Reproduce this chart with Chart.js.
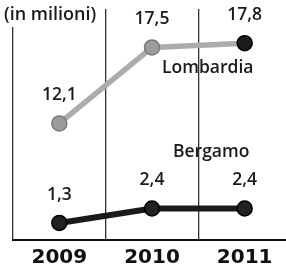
<!DOCTYPE html>
<html>
<head>
<meta charset="utf-8">
<script src="https://cdn.jsdelivr.net/npm/chart.js@4/dist/chart.umd.min.js"></script>
<style>
  html, body { margin: 0; padding: 0; background: #fff; }
  #wrap { width: 286px; height: 273px; overflow: hidden; position: relative; }
  #inner { width: 300px; height: 279px; }
</style>
</head>
<body>
<div id="wrap"><div id="inner"><canvas id="grafico" width="300" height="279"></canvas></div></div>
<script>
// dati (in milioni)
var anni = ["2009", "2010", "2011"];
var lombardia = [12.1, 17.5, 17.8];
var bergamo = [1.3, 2.4, 2.4];
var etichetteLombardia = ["12,1", "17,5", "17,8"];
var etichetteBergamo = ["1,3", "2,4", "2,4"];

var fontTesto = "'Open Sans', 'Liberation Sans', sans-serif";

// scrive i valori sopra ai punti, i nomi delle serie e il sottotitolo
var etichette = {
    id: "etichette",
    afterDatasetsDraw: function (chart) {
        var ctx = chart.ctx;
        ctx.save();
        ctx.fillStyle = "#1a1a1a";
        ctx.textAlign = "center";
        ctx.textBaseline = "middle";
        ctx.font = "600 17.5px " + fontTesto;
        chart.data.datasets.forEach(function (ds, i) {
            var meta = chart.getDatasetMeta(i);
            meta.data.forEach(function (p, j) {
                ctx.fillText(ds.etichette[j], p.x, p.y - 28);
            });
        });
        // nomi serie
        ctx.textAlign = "left";
        ctx.fillText("Lombardia", 162, 68);
        ctx.fillText("Bergamo", 173, 152);
        // sottotitolo
        ctx.fillStyle = "#fff";
        ctx.fillRect(0, 0, 104, 27);
        ctx.fillStyle = "#1a1a1a";
        ctx.font = "600 18px " + fontTesto;
        ctx.fillText("(in milioni)", 4, 15);
        ctx.restore();
    }
};

var ctx = document.getElementById("grafico").getContext("2d");

new Chart(ctx, {
    type: "line",
    data: {
        labels: anni,
        datasets: [{
            label: "Lombardia",
            data: lombardia,
            etichette: etichetteLombardia,
            yAxisID: "y2",
            borderColor: "#acacac",
            borderWidth: 5.5,
            pointRadius: 7.5,
            pointBorderWidth: 1.5,
            pointBackgroundColor: ["#9c9c9c", "#9c9c9c", "#1c1c1c"],
            pointBorderColor: ["#7a7a7a", "#7a7a7a", "#000"],
            clip: false
        }, {
            label: "Bergamo",
            data: bergamo,
            etichette: etichetteBergamo,
            yAxisID: "y",
            borderColor: "#1a1a1a",
            borderWidth: 6,
            pointRadius: 7.5,
            pointBorderWidth: 1.5,
            pointBackgroundColor: "#222",
            pointBorderColor: "#000",
            clip: false
        }]
    },
    options: {
        responsive: false,
        animation: false,
        layout: { padding: { left: 13, right: 8, top: 0, bottom: 3 } },
        plugins: {
            legend: { display: false },
            tooltip: { enabled: false }
        },
        scales: {
            x: {
                offset: true,
                grid: { offset: true, color: "#333", lineWidth: 1.3, drawTicks: false },
                border: { color: "#111", width: 2 },
                ticks: {
                    padding: 6,
                    color: "#111",
                    font: { family: "'DejaVu Sans', sans-serif", size: 20, weight: "bold" }
                }
            },
            y: { display: false, min: 0, max: 17.6 },
            y2: { display: false, min: 3.82, max: 20.23 }
        }
    },
    plugins: [etichette]
});
</script>
</body>
</html>
